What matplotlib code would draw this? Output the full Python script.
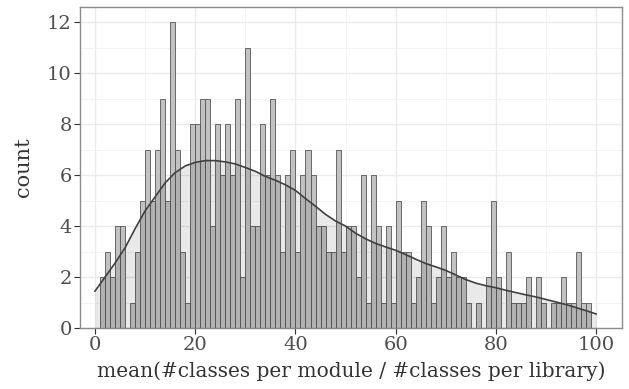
import matplotlib
matplotlib.use("Agg")
import matplotlib.pyplot as plt
import numpy as np

# histogram counts, bins of width 1 starting at 0
bin_left = list(range(100))
counts = [0, 2, 3, 2, 4, 4, 0, 1, 3, 5,
          7, 5, 7, 9, 5, 12, 7, 3, 1, 8,
          8, 9, 9, 4, 8, 6, 8, 6, 9, 2,
          11, 4, 4, 8, 6, 9, 6, 3, 6, 7,
          3, 6, 7, 6, 4, 4, 3, 3, 7, 3,
          4, 4, 2, 6, 1, 6, 4, 1, 4, 1,
          5, 3, 3, 1, 2, 5, 4, 1, 2, 4,
          2, 3, 2, 2, 1, 0, 1, 0, 2, 5,
          2, 0, 3, 1, 1, 1, 2, 0, 2, 1,
          0, 1, 1, 2, 1, 1, 3, 1, 1, 0]

# density curve (scaled to counts)
curve_x = [0, 2, 4, 6, 8, 10, 12, 14, 16, 18, 20, 22, 24, 26, 28, 30, 32, 34, 36, 38,
           40, 42, 44, 46, 48, 50, 52, 54, 56, 58, 60, 62, 64, 66, 68, 70, 72, 74, 76, 78,
           80, 82, 84, 86, 88, 90, 92, 94, 96, 98, 100]
curve_y = [1.45, 2.0, 2.55, 3.15, 3.9, 4.6, 5.15, 5.7, 6.1, 6.36, 6.5, 6.57, 6.57, 6.52, 6.44,
           6.3, 6.15, 5.95, 5.8, 5.62, 5.4, 5.08, 4.78, 4.46, 4.2, 4.0, 3.72, 3.5, 3.32, 3.18,
           3.05, 2.88, 2.7, 2.53, 2.4, 2.26, 2.08, 1.9, 1.76, 1.66, 1.58, 1.48, 1.39, 1.3, 1.22,
           1.12, 1.02, 0.92, 0.8, 0.68, 0.55]

x_ticks = [0, 20, 40, 60, 80, 100]
y_ticks = [0, 2, 4, 6, 8, 10, 12]
x_label = "mean(#classes per module / #classes per library)"
y_label = "count"

plt.rcParams['font.family'] = ['DejaVu Serif']

fig = plt.figure(figsize=(6.29, 3.89), dpi=100)
ax = fig.add_axes([80/629, 1-328/389, (621.7-80)/629, (328-7)/389])

ax.bar(bin_left, counts, width=1.0, align='edge', color='#c2c2c2',
       edgecolor='#555555', linewidth=0.6, zorder=2)
ax.fill_between(curve_x, 0, curve_y, color='black', alpha=0.085, linewidth=0, zorder=3)
ax.plot(curve_x, curve_y, color='#404040', linewidth=1.2, zorder=4)

ax.set_xlim(-3.0, 105.1)
ax.set_ylim(0, 12.6)
ax.set_xticks(x_ticks)
ax.set_yticks(y_ticks)
ax.set_xticks([10, 30, 50, 70, 90], minor=True)
ax.set_yticks([1, 3, 5, 7, 9, 11], minor=True)
ax.grid(which='major', color='#ebebeb', linewidth=1.0, zorder=0)
ax.grid(which='minor', color='#f2f2f2', linewidth=0.6, zorder=0)
ax.set_axisbelow(True)
ax.tick_params(which='minor', length=0)
ax.tick_params(which='major', length=4, color='#333333', width=0.8,
               labelsize=14, labelcolor='#4d4d4d', pad=2)
for s in ax.spines.values():
    s.set_color('#8c8c8c')
    s.set_linewidth(1.0)
ax.set_xlabel(x_label, fontsize=14.5, color='#333333', labelpad=5)
ax.set_ylabel(y_label, fontsize=15, color='#333333', labelpad=10)

fig.savefig("out.png", dpi=100)
